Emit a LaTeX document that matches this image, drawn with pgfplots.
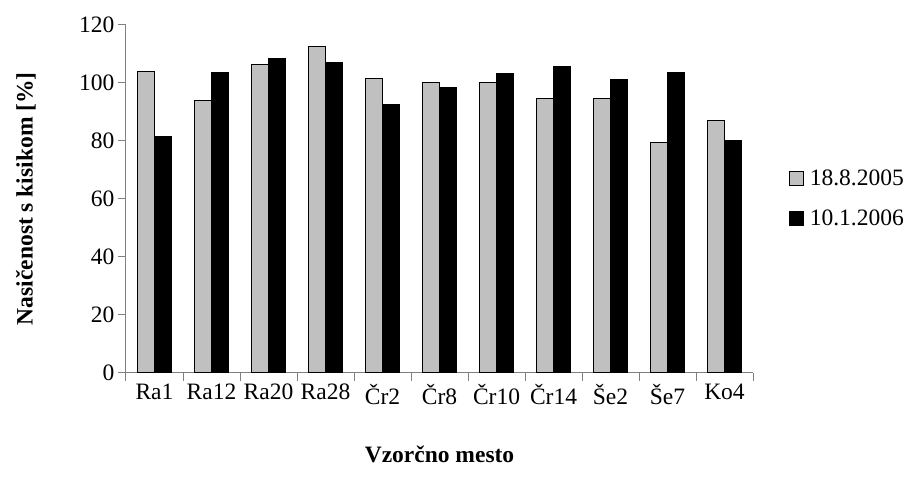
\documentclass[border=0pt]{standalone}
\usepackage{fontspec}
\setmainfont{Liberation Serif}
\usepackage{pgfplots}
\pgfplotsset{compat=1.18}
\definecolor{barg}{RGB}{192,192,192}
\definecolor{axg}{RGB}{128,128,128}
\begin{document}
\begin{tikzpicture}
\path[use as bounding box] (-126pt,-113.3pt) rectangle (783pt,372.7pt);
\begin{axis}[
  at={(0pt,0pt)}, anchor=south west,
  scale only axis, width=627pt, height=348pt,
  xmin=-0.5, xmax=10.5, ymin=0, ymax=120,
  ytick={0,20,...,120},
  xtick={0,...,10},
  xticklabels={Ra1,Ra12,Ra20,Ra28,Čr2,Čr8,Čr10,Čr14,Še2,Še7,Ko4},
  minor xtick={-0.5,0.5,...,10.5},
  major x tick style={draw=none},
  axis lines*=left,
  axis line style={draw=axg, line width=1pt},
  tick align=outside,
  tick style={draw=axg, line width=1pt},
  major tick length=8pt, minor tick length=8pt,
  /pgf/number format/assume math mode=true,
  font=\fontsize{23.5}{28}\selectfont,
  ybar=0pt, bar width=17pt,
  xlabel={\textbf{Vzorčno mesto}},
  ylabel={\textbf{Nasičenost s kisikom [\%]}},
  xlabel style={at={(axis description cs:0.5,0)}, anchor=center, yshift=-82pt},
  ylabel style={at={(axis description cs:0,0.5)}, anchor=center, yshift=100pt},
  legend style={at={(rel axis cs:1.052,0.5)}, anchor=west, draw=none, fill=none,
    row sep=19pt, column sep=4pt, font=\fontsize{23.5}{28}\selectfont},
  legend cell align=left,
  legend image code/.code={\draw[#1, line width=1pt] (0pt,-7pt) rectangle (14pt,7pt);},
]
\addplot[fill=barg, draw=black, line width=1pt] coordinates {
 (0,104) (1,94) (2,106.4) (3,112.5) (4,101.6) (5,100) (6,100) (7,94.6) (8,94.6) (9,79.5) (10,87)};
\addplot[fill=black, draw=black, line width=1pt] coordinates {
 (0,81.5) (1,103.6) (2,108.5) (3,107) (4,92.6) (5,98.2) (6,103) (7,105.6) (8,101) (9,103.6) (10,80.2)};
\legend{18.8.2005,10.1.2006}
\end{axis}
\end{tikzpicture}
\end{document}
